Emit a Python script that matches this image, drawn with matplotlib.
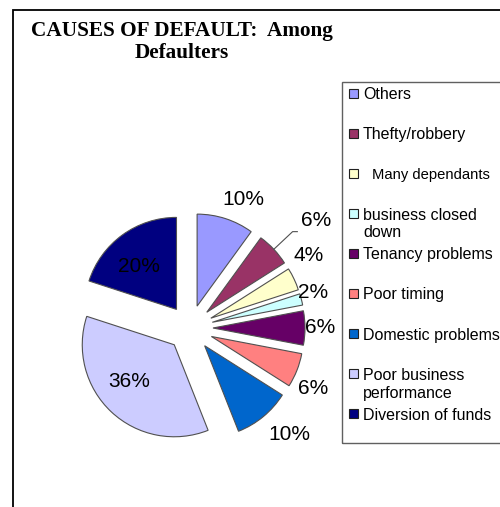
import matplotlib
matplotlib.use("Agg")
import matplotlib.pyplot as plt
import numpy as np
from matplotlib.patches import Rectangle
from matplotlib.lines import Line2D

# ---- data ----
categories = ["Others", "Thefty/robbery", "Many dependants", "business closed\ndown",
              "Tenancy problems", "Poor timing", "Domestic problems",
              "Poor business\nperformance", "Diversion of funds"]
values = [10, 6, 4, 2, 6, 6, 10, 36, 20]
colors = ["#9999FF", "#993366", "#FFFFCC", "#CCFFFF", "#660066",
          "#FF8080", "#0066CC", "#CCCCFF", "#000080"]
title = "CAUSES OF DEFAULT:  Among\nDefaulters"

# ---- label layout (style) ----
label_dist = [1.51, 1.80, 1.51, 1.39, 1.41, 1.49, 1.59, 0.88, 0.87]
label_dang = [-4.5, -2.6, 6.5, 1.9, 0.0, -4.4, 3.4, -5.3, 4.0]

W, H = 500, 507
fig = plt.figure(figsize=(W / 100, H / 100), dpi=100)

# outer frame (left + top visible)
fig.add_artist(Rectangle((13 / W, -0.1), 1.2, (H - 10) / H + 0.1,
                         transform=fig.transFigure, fill=False, lw=1.3, ec="black"))

# title (baseline of last line)
fig.text(182 / W, 1 - 58 / H, title, ha="center", va="baseline",
         family="Liberation Serif", weight="bold", fontsize=15.3, linespacing=1.15)

# pie axes
ax = fig.add_axes([52 / W, 41 / H, 276 / W, 276 / H])
wedges, _ = ax.pie(values, colors=colors, startangle=90, counterclock=False,
                   explode=[0.25] * len(values), radius=1,
                   wedgeprops=dict(edgecolor="#505050", linewidth=0.8))
ax.set_xlim(-1.5, 1.5)
ax.set_ylim(-1.5, 1.5)
ax.axis("off")

total = sum(values)
for i, (w, v) in enumerate(zip(wedges, values)):
    mid = 0.5 * (w.theta1 + w.theta2)
    ang = np.deg2rad(mid + label_dang[i])
    x, y = label_dist[i] * np.cos(ang), label_dist[i] * np.sin(ang)
    ax.text(x, y, f"{round(100 * v / total)}%", ha="center", va="center",
            family="Liberation Sans", fontsize=15, clip_on=False)
    if i == 1:
        # leader line for the Thefty/robbery slice
        m = np.deg2rad(mid)
        sx = 0.25 * np.cos(m) + np.cos(m)
        sy = 0.25 * np.sin(m) + np.sin(m)
        ex, ey = 1.53 * np.cos(m), 1.53 * np.sin(m)
        ax.add_line(Line2D([sx, ex, x - 0.2], [sy, ey, ey], color="#505050",
                           lw=0.8, clip_on=False))

# legend box
fig.add_artist(Rectangle((342 / W, 1 - 443 / H), 0.5, (443 - 82) / H,
                         transform=fig.transFigure, fill=False, lw=1.0, ec="#606060"))
leg_fs = [11.5, 11.5, 10.6, 11.5, 11.5, 11.5, 11.5, 11.5, 11.5]
leg_dx = [0, 0, 9, 0, 0, 0, 0, 0, 0]
for i, (cat, col) in enumerate(zip(categories, colors)):
    yc = 93 + 40.1 * i
    fig.add_artist(Rectangle((349 / W, 1 - (yc + 4.5) / H), 9 / W, 9 / H,
                             transform=fig.transFigure, fc=col, ec="#202020", lw=0.8))
    extra = 18 * cat.count("\n")
    fig.text((363 + leg_dx[i]) / W, 1 - (yc + 6 + extra) / H, cat, ha="left",
             va="baseline", family="Liberation Sans", fontsize=leg_fs[i],
             linespacing=1.2)

fig.savefig("out.png", dpi=100, facecolor="white")
